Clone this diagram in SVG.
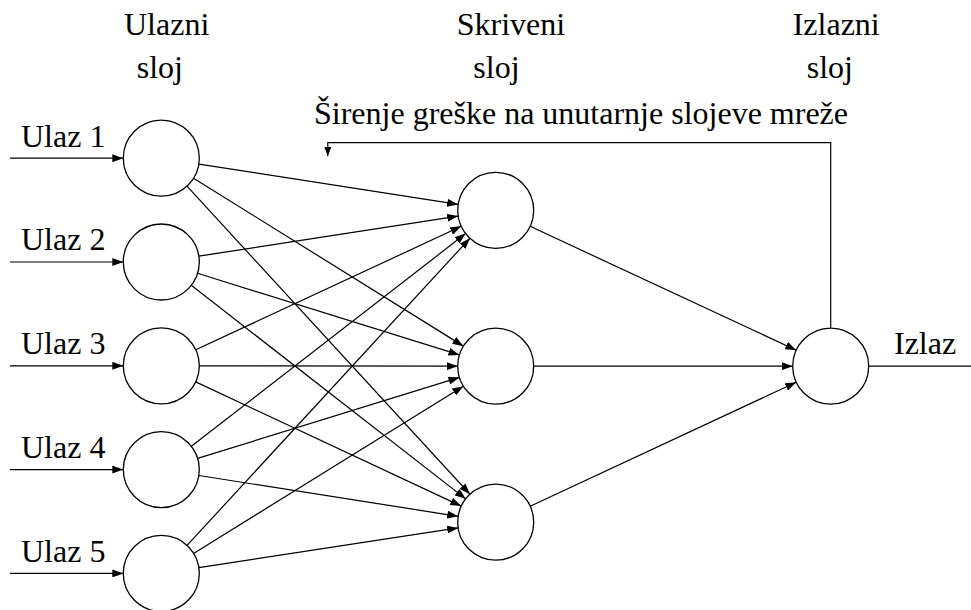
<svg xmlns="http://www.w3.org/2000/svg" width="971" height="610" viewBox="0 0 971 610">
  <style>
    .lbl { font-family: "Liberation Serif", "Times New Roman", serif; font-size: 32px; fill: #000; }
    .node { fill: #fff; stroke: #000; stroke-width: 1.3; }
    .edge { fill: none; stroke: #000; stroke-width: 1.2; marker-end: url(#arrow); }
    .plain { fill: none; stroke: #000; stroke-width: 1.2; }
  </style>
  <defs>
    <marker id="arrow" markerUnits="userSpaceOnUse" markerWidth="12" markerHeight="8" refX="11" refY="4" orient="auto">
      <path d="M0,0 L11,4 L0,8 z" fill="#000"/>
    </marker>
    <marker id="arrowSmall" markerUnits="userSpaceOnUse" markerWidth="10" markerHeight="7" refX="9" refY="3.5" orient="auto">
      <path d="M0,0 L9,3.5 L0,7 z" fill="#000"/>
    </marker>
  </defs>

  <rect width="971" height="610" fill="#fff"/>

  <!-- layer headings -->
  <g id="headings">
    <text class="lbl" x="124" y="35">Ulazni</text>
    <text class="lbl" x="136.7" y="78.3">sloj</text>
    <text class="lbl" x="456.7" y="35">Skriveni</text>
    <text class="lbl" x="473.3" y="78.3">sloj</text>
    <text class="lbl" x="792.7" y="35">Izlazni</text>
    <text class="lbl" x="806.7" y="78.3">sloj</text>
    <text class="lbl" x="314" y="123.5">Širenje greške na unutarnje slojeve mreže</text>
  </g>

  <!-- connectors -->
  <g id="connectors">
    <!-- external inputs -->
    <path class="edge" d="M10,158.2 H123.3"/>
    <path class="edge" d="M10,262 H123.3"/>
    <path class="edge" d="M10,365.8 H123.3"/>
    <path class="edge" d="M10,469.6 H123.3"/>
    <path class="edge" d="M10,573.4 H123.3"/>

    <!-- input layer to hidden layer -->
    <path class="edge" d="M198.85,164.05 L458.15,204.45"/>
    <path class="edge" d="M193.57,178.27 L463.43,346.13"/>
    <path class="edge" d="M187.01,186.18 L469.99,494.22"/>

    <path class="edge" d="M198.85,256.19 L458.15,216.11"/>
    <path class="edge" d="M197.58,273.30 L459.42,354.90"/>
    <path class="edge" d="M191.29,285.34 L465.71,498.86"/>

    <path class="edge" d="M195.75,349.78 L461.25,226.32"/>
    <path class="edge" d="M199.3,365.8 L457.7,366.2"/>
    <path class="edge" d="M195.72,381.90 L461.28,506.10"/>

    <path class="edge" d="M191.33,446.32 L465.67,233.58"/>
    <path class="edge" d="M197.61,458.37 L459.39,377.43"/>
    <path class="edge" d="M198.84,475.50 L458.16,516.30"/>

    <path class="edge" d="M187.04,545.45 L469.96,238.25"/>
    <path class="edge" d="M193.60,553.39 L463.40,386.21"/>
    <path class="edge" d="M198.86,567.65 L458.14,527.95"/>

    <!-- hidden layer to output -->
    <path class="edge" d="M530.15,226.33 L796.25,350.17"/>
    <path class="edge" d="M533.7,366.2 L792.7,366.2"/>
    <path class="edge" d="M530.15,506.17 L796.25,382.23"/>

    <!-- output line -->
    <path class="plain" d="M868.7,366.2 H971"/>

    <!-- error back-propagation loop -->
    <path class="plain" d="M830.7,328.2 V142.7 H327.8 V156" marker-end="url(#arrowSmall)"/>
  </g>

  <!-- input layer -->
  <g id="in1"><circle class="node" cx="161.3" cy="158.2" r="38"/><text class="lbl" x="21" y="146.6">Ulaz 1</text></g>
  <g id="in2"><circle class="node" cx="161.3" cy="262" r="38"/><text class="lbl" x="21" y="250.4">Ulaz 2</text></g>
  <g id="in3"><circle class="node" cx="161.3" cy="365.8" r="38"/><text class="lbl" x="21" y="354.2">Ulaz 3</text></g>
  <g id="in4"><circle class="node" cx="161.3" cy="469.6" r="38"/><text class="lbl" x="21" y="458">Ulaz 4</text></g>
  <g id="in5"><circle class="node" cx="161.3" cy="573.4" r="38"/><text class="lbl" x="21" y="561.8">Ulaz 5</text></g>

  <!-- hidden layer -->
  <g id="h1"><circle class="node" cx="495.7" cy="210.3" r="38"/></g>
  <g id="h2"><circle class="node" cx="495.7" cy="366.2" r="38"/></g>
  <g id="h3"><circle class="node" cx="495.7" cy="522.2" r="38"/></g>

  <!-- output layer -->
  <g id="out"><circle class="node" cx="830.7" cy="366.2" r="38"/><text class="lbl" x="894" y="354.3">Izlaz</text></g>
</svg>
